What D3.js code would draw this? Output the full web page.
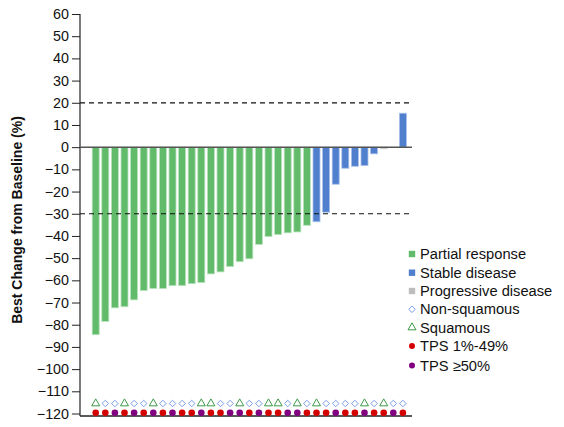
<!DOCTYPE html>
<html><head><meta charset="utf-8">
<script src="https://cdn.jsdelivr.net/npm/d3@7"></script>
<style>body{margin:0;background:#fff;}svg{display:block;font-family:"Liberation Sans",Arial,sans-serif;}</style>
</head><body>
<script>
// ---- data ----
const patients = d3.range(1, 34).map(String);
const bestChange = [-84.5,-78.5,-72.4,-71.9,-68.8,-64.6,-63.7,-63.7,-62.4,-62.4,-61.5,-61.0,-57.1,-56.2,-53.8,-51.6,-50.3,-43.8,-40.3,-39.4,-38.6,-38.2,-35.2,
  -33.6,-29.3,-16.7,-9.5,-8.6,-8.3,-3.0,-0.8,0,15.3];
const response = ["PR","PR","PR","PR","PR","PR","PR","PR","PR","PR","PR","PR","PR","PR","PR","PR","PR","PR","PR","PR","PR","PR","PR",
  "SD","SD","SD","SD","SD","SD","SD","PD","SD","SD"];
const histology = ["S","N","N","S","N","N","S","N","N","N","N","S","S","N","N","S","N","N","S","S","N","S","N","S","N","N","N","N","S","N","S","N","N"];
const tps = ["L","L","H","L","H","L","H","L","H","L","L","H","L","L","H","H","L","H","L","L","H","H","L","L","L","H","L","L","H","L","L","H","L"];
const yTicks = d3.range(-120, 61, 10);
const refLines = [20, -30];
const legendItems = [
  {label:"Partial response", type:"square", key:"PR"},
  {label:"Stable disease", type:"square", key:"SD"},
  {label:"Progressive disease", type:"square", key:"PD"},
  {label:"Non-squamous", type:"diamond", key:"N"},
  {label:"Squamous", type:"triangle", key:"S"},
  {label:"TPS 1%-49%", type:"circle", key:"L"},
  {label:"TPS \u226550%", type:"circle", key:"H"}
];
const respColor = {PR:"#62bb6b", SD:"#4f7fcd", PD:"#bdbdbd"};
const respStroke = {PR:"#b9e3bd", SD:"#a9c1ea", PD:"#e0e0e0"};
const histColor = {N:"#7a9ee6", S:"#3c9a47"};
const tpsColor = {L:"#d40000", H:"#800080"};

const W = 564, H = 427;
const svg = d3.select("body").append("svg").attr("width", W).attr("height", H);

const y = d3.scaleLinear().domain([-120, 60]).range([413.5, 14]);
const x = d3.scalePoint().domain(patients).range([95.7, 402.9]);
const axX = 80, plotRight = 412, barW = 7;

// y axis
const yAxis = d3.axisLeft(y).tickValues(yTicks).tickSize(8).tickPadding(3);
const gY = svg.append("g").attr("transform", `translate(${axX},0)`).call(yAxis);
gY.select(".domain").remove();
gY.selectAll(".tick line").attr("stroke", "#222");
gY.selectAll(".tick text").attr("font-size", 14.3).attr("fill", "#111");
svg.append("line").attr("x1", axX).attr("x2", axX).attr("y1", y(60)).attr("y2", y(-120) + 2.5)
  .attr("stroke", "#222").attr("stroke-width", 1.2);
svg.append("line").attr("x1", axX).attr("x2", plotRight).attr("y1", y(-120) + 2.5).attr("y2", y(-120) + 2.5)
  .attr("stroke", "#222").attr("stroke-width", 1.5);

svg.append("text").attr("transform", `translate(22,220) rotate(-90)`)
  .attr("text-anchor", "middle").attr("font-size", 14).attr("font-weight", "bold").attr("fill", "#111")
  .text("Best Change from Baseline (%)");

// bars
svg.append("g").selectAll("rect").data(patients).join("rect")
  .attr("x", d => x(d) - barW/2)
  .attr("width", barW)
  .attr("y", (d,i) => Math.min(y(bestChange[i]), y(0)))
  .attr("height", (d,i) => Math.abs(y(bestChange[i]) - y(0)))
  .attr("fill", (d,i) => respColor[response[i]])
  .attr("stroke", (d,i) => respStroke[response[i]])
  .attr("stroke-width", 0.8);

// zero line
svg.append("line").attr("x1", axX).attr("x2", plotRight).attr("y1", y(0)).attr("y2", y(0))
  .attr("stroke", "#555").attr("stroke-width", 1.5);

// reference lines
svg.append("g").selectAll("line").data(refLines).join("line")
  .attr("x1", axX).attr("x2", plotRight).attr("y1", d => y(d)).attr("y2", d => y(d))
  .attr("stroke", "#111").attr("stroke-width", 1.2).attr("stroke-dasharray", "5,4");

// histology markers
const squareDiamond = { draw(ctx, size) { const r = Math.sqrt(size) / 2; ctx.moveTo(0, -r); ctx.lineTo(r, 0); ctx.lineTo(0, r); ctx.lineTo(-r, 0); ctx.closePath(); } };
const triPath = d3.symbol().type(d3.symbolTriangle).size(28);
const diaPath = d3.symbol().type(squareDiamond).size(42);
svg.append("g").selectAll("path").data(patients).join("path")
  .attr("transform", (d,i) => `translate(${x(d)},${y(-115.5)})`)
  .attr("d", (d,i) => histology[i] === "S" ? triPath() : diaPath())
  .attr("fill", "none")
  .attr("stroke", (d,i) => histColor[histology[i]])
  .attr("stroke-width", 1);

// TPS markers
svg.append("g").selectAll("circle").data(patients).join("circle")
  .attr("cx", d => x(d)).attr("cy", y(-119.7)).attr("r", 3.3)
  .attr("fill", (d,i) => tpsColor[tps[i]]);

// legend
const lg = svg.append("g").attr("transform", "translate(412,0)");
const rowY = [254, 272.7, 291, 309.3, 327.5, 346, 365.5];
legendItems.forEach((it, i) => {
  const g = lg.append("g").attr("transform", `translate(0,${rowY[i]})`);
  if (it.type === "square") {
    g.append("rect").attr("x", -3.2).attr("y", -3.2).attr("width", 6.4).attr("height", 6.4).attr("fill", respColor[it.key]);
  } else if (it.type === "diamond") {
    g.append("path").attr("d", diaPath()).attr("fill", "none").attr("stroke", histColor.N).attr("stroke-width", 1);
  } else if (it.type === "triangle") {
    g.append("path").attr("d", triPath()).attr("fill", "none").attr("stroke", histColor.S).attr("stroke-width", 1);
  } else {
    g.append("circle").attr("r", 3).attr("fill", tpsColor[it.key]);
  }
  g.append("text").attr("x", 8).attr("y", 5).attr("font-size", 14.7).attr("fill", "#111").text(it.label);
});
</script>
</body></html>
